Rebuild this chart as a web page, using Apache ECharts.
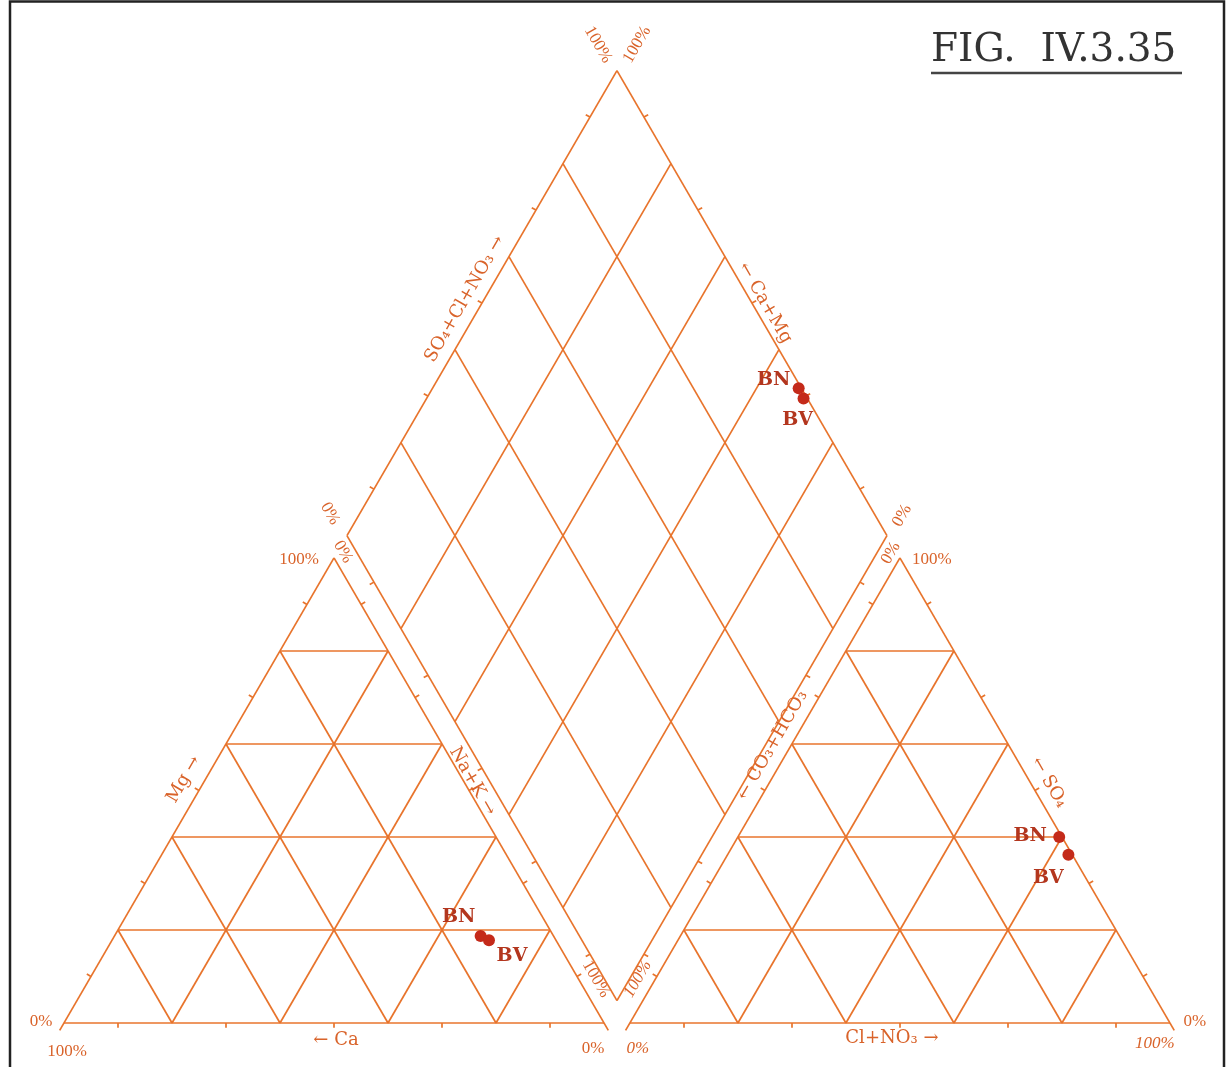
<!DOCTYPE html>
<html>
<head>
<meta charset="utf-8">
<title>FIG. IV.3.35</title>
<script src="https://cdn.jsdelivr.net/npm/echarts@6/dist/echarts.min.js"></script>
<style>
  html, body { margin: 0; padding: 0; background: #ffffff; }
  #chart { width: 1228px; height: 1067px; }
</style>
</head>
<body>
<div id="chart"></div>
<script>
// ---- Piper diagram data -------------------------------------------------
const sampleNames = ['BN', 'BV'];
// cations, % meq
const caPct  = [13.5, 12.4];
const mgPct  = [18.7, 17.8];
const naKPct = [67.8, 69.8];
// anions, % meq
const hco3Pct = [0.5, 0.7];
const so4Pct  = [40.0, 36.2];
const clPct   = [59.5, 63.1];

// grid lines and half-step ticks, in percent
const gridPct  = [20, 40, 60, 80];
const minorPct = [10, 30, 50, 70, 90];

// ---- geometry (chart units: triangle side = 100) -------------------------
const SIDE = 100, GAP = 4.8;
const K = Math.sqrt(3) / 2;
const H = SIDE * K;
const X0 = SIDE + GAP;                   // left corner of the anion triangle
const B = [SIDE + GAP / 2, GAP * K];     // bottom corner of the diamond

// cation triangle: Ca bottom-left, Na+K bottom-right, Mg top
function cat(ca, mg, na) { return [(na + mg / 2) * SIDE / 100, mg * H / 100]; }
// anion triangle: HCO3 bottom-left, Cl bottom-right, SO4 top
function ani(hc, so, cl) { return [X0 + (cl + so / 2) * SIDE / 100, so * H / 100]; }
// diamond: n = Na+K %, h = CO3+HCO3 %
function dia(n, h) {
  const a = 1 - n / 100, b = 1 - h / 100;
  return [B[0] + (b - a) * SIDE / 2, B[1] + (a + b) * H];
}
function lerp(p, q, t) { return [p[0] + (q[0] - p[0]) * t, p[1] + (q[1] - p[1]) * t]; }
function ext(p, q, len) {
  const dx = q[0] - p[0], dy = q[1] - p[1], l = Math.hypot(dx, dy);
  return [q[0] + dx / l * len, q[1] + dy / l * len];
}

const segs = [];
function seg(p, q) { segs.push({ coords: [p, q] }); }

const cCa = cat(100, 0, 0), cNa = cat(0, 0, 100), cMg = cat(0, 100, 0);
const aHc = ani(100, 0, 0), aCl = ani(0, 0, 100), aSo = ani(0, 100, 0);
const dBot = dia(100, 100), dL = dia(0, 100), dTop = dia(0, 0), dR = dia(100, 0);

// outlines (sloped sides run a little past the base)
seg(cCa, cNa); seg(cMg, ext(cMg, cCa, 1.6)); seg(cMg, ext(cMg, cNa, 1.6));
seg(aHc, aCl); seg(aSo, ext(aSo, aHc, 1.6)); seg(aSo, ext(aSo, aCl, 1.6));
seg(dBot, dL); seg(dL, dTop); seg(dTop, dR); seg(dR, dBot);

// 20 % grid
gridPct.forEach(p => {
  seg(cat(100 - p, p, 0), cat(0, p, 100 - p));
  seg(cat(100 - p, 0, p), cat(0, 100 - p, p));
  seg(cat(p, 0, 100 - p), cat(p, 100 - p, 0));
  seg(ani(100 - p, p, 0), ani(0, p, 100 - p));
  seg(ani(100 - p, 0, p), ani(0, 100 - p, p));
  seg(ani(p, 0, 100 - p), ani(p, 100 - p, 0));
  seg(dia(p, 100), dia(p, 0));
  seg(dia(100, p), dia(0, p));
});

// short ticks at the odd 10 % steps, pointing outward
function ticks(p, q, c) {
  minorPct.forEach(f => {
    const m = lerp(p, q, f / 100);
    const dx = q[0] - p[0], dy = q[1] - p[1], l = Math.hypot(dx, dy);
    let n = [-dy / l, dx / l];
    if (n[0] * (m[0] - c[0]) + n[1] * (m[1] - c[1]) < 0) n = [-n[0], -n[1]];
    seg(m, [m[0] + n[0] * 0.9, m[1] + n[1] * 0.9]);
  });
}
const cC = [(cCa[0] + cNa[0] + cMg[0]) / 3, (cCa[1] + cNa[1] + cMg[1]) / 3];
const aC = [(aHc[0] + aCl[0] + aSo[0]) / 3, (aHc[1] + aCl[1] + aSo[1]) / 3];
const dC = [(dL[0] + dR[0]) / 2, (dL[1] + dR[1]) / 2];
ticks(cCa, cNa, cC); ticks(cNa, cMg, cC); ticks(cMg, cCa, cC);
ticks(aHc, aCl, aC); ticks(aCl, aSo, aC); ticks(aSo, aHc, aC);
ticks(dBot, dL, dC); ticks(dL, dTop, dC); ticks(dTop, dR, dC); ticks(dR, dBot, dC);

// ---- sample points ------------------------------------------------------
const LINE = '#E8742C';
const TXT = '#D9632A';
const DOT = '#C42A1A';
const LAB = '#B3361E';

// label offsets [dx, dy] in px for BN / BV in each field
const offCat = [[-22, -19], [23, 16]];
const offAni = [[-29, -1], [-20, 23]];
const offDia = [[-25, -8], [-6, 22]];

function pointItems(fn, offs) {
  return sampleNames.map((name, i) => ({
    name,
    value: fn(i),
    label: { show: true, formatter: name, position: 'inside', offset: offs[i] }
  }));
}
const catPts = pointItems(i => cat(caPct[i], mgPct[i], naKPct[i]), offCat);
const aniPts = pointItems(i => ani(hco3Pct[i], so4Pct[i], clPct[i]), offAni);
const diaPts = pointItems(i => dia(naKPct[i], hco3Pct[i]), offDia);

const pointLabel = {
  color: LAB, fontFamily: 'DejaVu Serif', fontWeight: 'bold', fontSize: 19
};

const chart = echarts.init(document.getElementById('chart'));
chart.setOption({
  animation: false,
  backgroundColor: '#ffffff',
  grid: { left: 0, right: 0, top: 0, bottom: 0 },
  xAxis: { type: 'value', min: -64 / 5.4, max: -64 / 5.4 + 1228 / 5.4, show: false },
  yAxis: { type: 'value', min: -44 / 5.37, max: 1023 / 5.37, show: false },
  series: [
    {
      type: 'lines', coordinateSystem: 'cartesian2d', polyline: false, silent: true,
      lineStyle: { color: LINE, width: 1.7, opacity: 1 },
      data: segs, z: 2
    },
    {
      type: 'scatter', name: 'samples', symbolSize: 12, z: 5,
      itemStyle: { color: DOT, opacity: 1 },
      label: pointLabel,
      data: catPts.concat(aniPts, diaPts)
    }
  ]
});

// ---- text placed relative to diagram corners and sides ----------------------
function px(p) { return chart.convertToPixel({ gridIndex: 0 }, p); }
const PCT_FONT = '17px "Liberation Serif", "DejaVu Serif", serif';
const PCT_IFONT = 'italic 17px "Liberation Serif", "DejaVu Serif", serif';
const AX_FONT = '18px "DejaVu Serif", serif';

function txt(anchor, dx, dy, text, rotDeg, font, color) {
  const p = px(anchor);
  return {
    type: 'text', x: p[0] + dx, y: p[1] + dy, rotation: (rotDeg || 0) * Math.PI / 180,
    silent: true, z: 10,
    style: { text, font: font || PCT_FONT, fill: color || TXT, align: 'center', verticalAlign: 'middle' }
  };
}

const chanL = lerp(cat(0, 50, 50), dia(50, 100), 0.5);
const chanR = lerp(ani(50, 50, 0), dia(100, 50), 0.5);

const texts = [
  // diamond top
  txt(dTop, -19, -26, '100%', -60),
  txt(dTop, 20, -26, '100%', 60),
  // diamond left corner / cation apex
  txt(dL, -17, -22, '0%', -60),
  txt(cMg, 9, -6, '0%', -60),
  txt(cMg, -35, 2, '100%', 0),
  // diamond right corner / anion apex
  txt(dR, 15, -20, '0%', 60),
  txt(aSo, -9, -5, '0%', 60),
  txt(aSo, 32, 2, '100%', 0),
  // bottom corners
  txt(cCa, -23, -1, '0%', 0),
  txt(cCa, 3, 29, '100%', 0),
  txt(cNa, -8, -44, '100%', -60),
  txt(cNa, -11, 26, '0%', 0),
  txt(aHc, 8, -44, '100%', 60, PCT_IFONT),
  txt(aHc, 8, 26, '0%', 0, PCT_IFONT),
  txt(aCl, 25, -1, '0%', 0),
  txt(aCl, -15, 21, '100%', 0, PCT_IFONT),
  // side names
  txt(cat(50, 0, 50), 2, 17, '\u2190 Ca', 0, AX_FONT),
  txt(ani(50, 0, 50), -8, 15, 'Cl+NO\u2083 \u2192', 0, AX_FONT),
  txt(cat(50, 50, 0), -15, -11, 'Mg \u2192', 60, AX_FONT),
  txt(chanL, -3, 2, 'Na+K \u2192', -60, AX_FONT),
  txt(dia(0, 50), -17, -4, 'SO\u2084+Cl+NO\u2083 \u2192', 60, AX_FONT),
  txt(dia(50, 0), 13, 0, '\u2190 Ca+Mg', -60, AX_FONT),
  txt(chanR, 14, -34, '\u2190 CO\u2083+HCO\u2083', 60, AX_FONT),
  txt(ani(0, 50, 50), 14, -8, '\u2190 SO\u2084', -60, AX_FONT),
  // figure number
  {
    type: 'text', left: 931, top: 31, silent: true, z: 10,
    style: { text: 'FIG.  IV.3.35', font: '39px "DejaVu Serif", serif', fill: '#333333' }
  },
  {
    type: 'line', silent: true, z: 10,
    shape: { x1: 931, y1: 73, x2: 1182, y2: 73 },
    style: { stroke: '#444444', lineWidth: 2.5 }
  },
  // page frame
  {
    type: 'rect', silent: true, z: 1,
    shape: { x: 10, y: 1.5, width: 1214, height: 1100 },
    style: { fill: null, stroke: '#222222', lineWidth: 2.5 }
  }
];
chart.setOption({ graphic: texts });
</script>
</body>
</html>
